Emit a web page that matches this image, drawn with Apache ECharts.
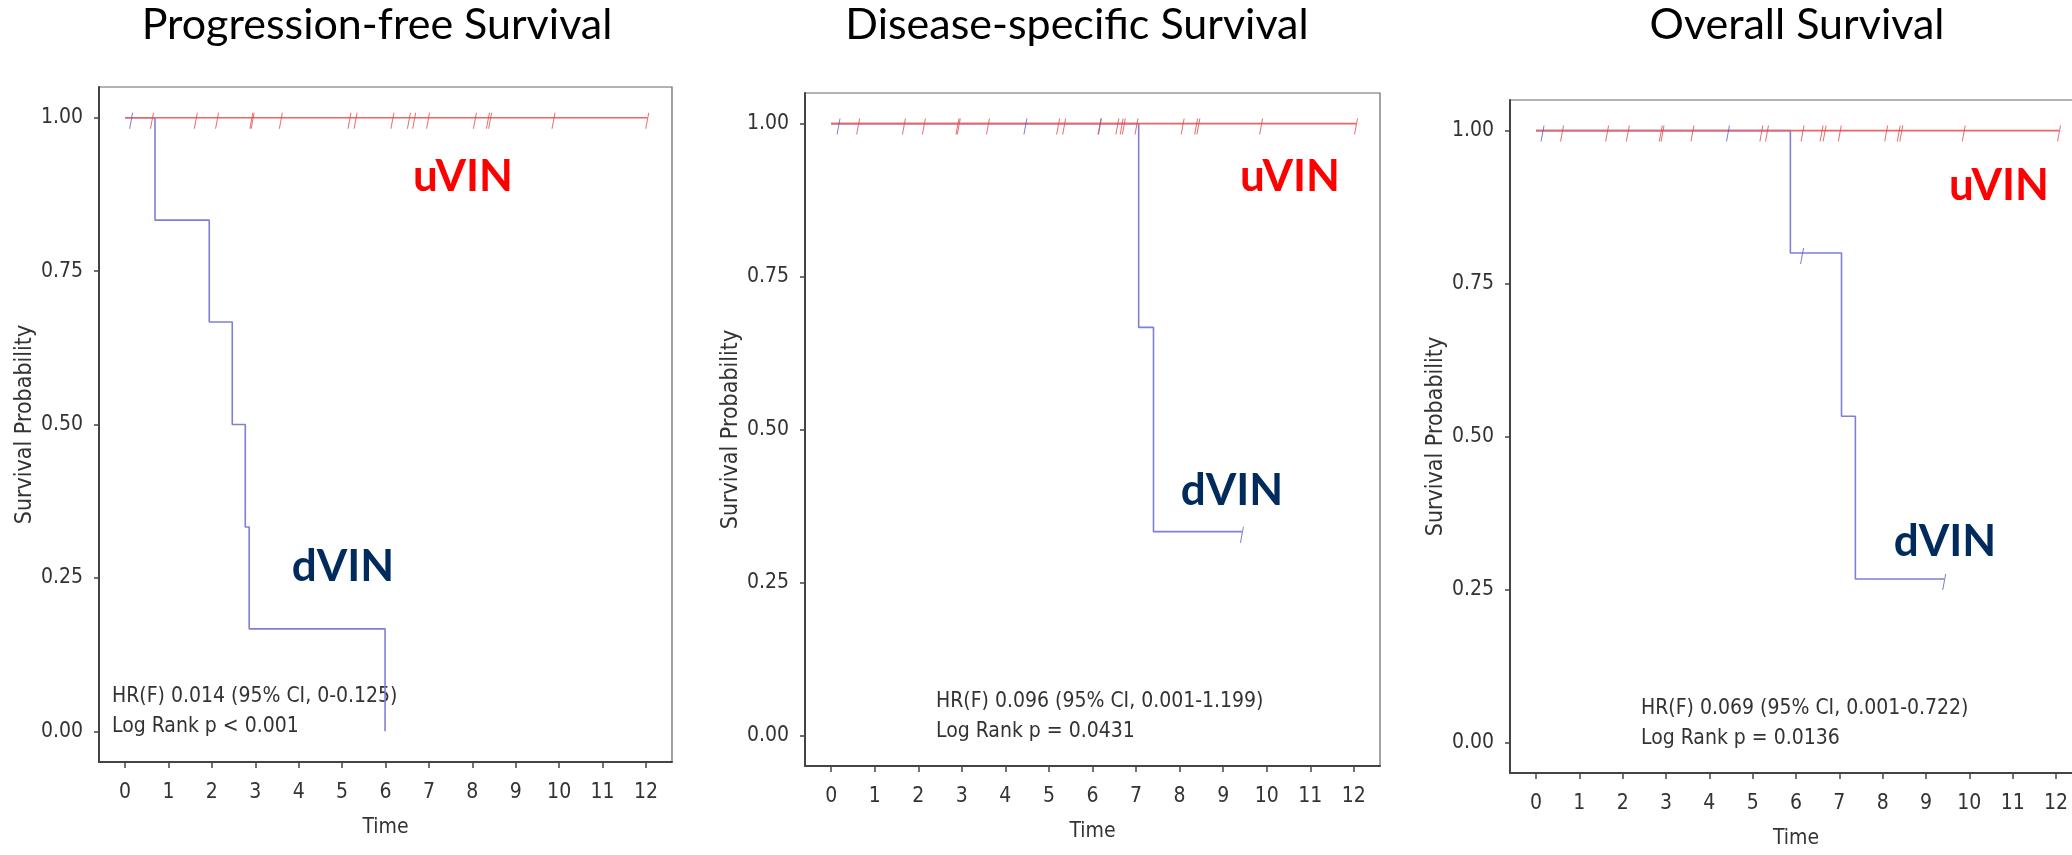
<!DOCTYPE html>
<html>
<head>
<meta charset="utf-8">
<script src="https://cdn.jsdelivr.net/npm/echarts@6/dist/echarts.min.js"></script>
<style>
  html, body { margin: 0; padding: 0; background: #fff; }
  #chart { width: 2072px; height: 855px; }
</style>
</head>
<body>
<div id="chart"></div>
<script>
// 三个 Kaplan-Meier 曲线：PFS / DSS / OS
var panelTitles = ['Progression-free Survival', 'Disease-specific Survival', 'Overall Survival'];
var timeTicks = [0, 1, 2, 3, 4, 5, 6, 7, 8, 9, 10, 11, 12];
var probTicks = [0, 0.25, 0.5, 0.75, 1];

// uVIN: no events, only censored
var uvinEnd = [12.03, 12.05, 12.07];
var uvinCensorPFS = [0.62, 1.63, 2.12, 2.91, 2.94, 3.59, 5.17, 5.31, 6.16, 6.54, 6.66, 6.98, 8.06, 8.36, 8.41, 9.87, 12.03];
var uvinCensorDSS = [0.62, 1.67, 2.13, 2.90, 2.93, 3.60, 5.21, 5.35, 6.16, 6.57, 6.67, 6.72, 7.01, 8.07, 8.38, 8.43, 9.87, 12.05];
var uvinCensorOS  = [0.60, 1.64, 2.12, 2.88, 2.92, 3.61, 5.20, 5.33, 6.15, 6.59, 6.66, 7.01, 8.08, 8.37, 8.43, 9.87, 12.07];

// dVIN step curves
var dvinTimePFS = [0, 0.69, 1.94, 2.47, 2.77, 2.86, 5.99];
var dvinSurvPFS = [1, 0.833, 0.667, 0.5, 0.333, 0.167, 0];
var dvinCensorTimePFS = [0.14];
var dvinCensorSurvPFS = [1];

var dvinTimeDSS = [0, 7.06, 7.40, 9.43];
var dvinSurvDSS = [1, 0.667, 0.333, 0.333];
var dvinCensorTimeDSS = [0.17, 4.46, 6.17, 9.43];
var dvinCensorSurvDSS = [1, 1, 1, 0.333];

var dvinTimeOS = [0, 5.87, 7.05, 7.37, 9.42];
var dvinSurvOS = [1, 0.8, 0.533, 0.267, 0.267];
var dvinCensorTimeOS = [0.15, 4.43, 6.14, 9.42];
var dvinCensorSurvOS = [1, 1, 0.8, 0.267];

var statLines = [
  ['HR(F) 0.014 (95% CI, 0-0.125)', 'Log Rank p < 0.001'],
  ['HR(F) 0.096 (95% CI, 0.001-1.199)', 'Log Rank p = 0.0431'],
  ['HR(F) 0.069 (95% CI, 0.001-0.722)', 'Log Rank p = 0.0136']
];

var uvinCensor = [uvinCensorPFS, uvinCensorDSS, uvinCensorOS];
var dvinTime = [dvinTimePFS, dvinTimeDSS, dvinTimeOS];
var dvinSurv = [dvinSurvPFS, dvinSurvDSS, dvinSurvOS];
var dvinCT = [dvinCensorTimePFS, dvinCensorTimeDSS, dvinCensorTimeOS];
var dvinCS = [dvinCensorSurvPFS, dvinCensorSurvDSS, dvinCensorSurvOS];

var myChart = echarts.init(document.getElementById('chart'));

var grids = [
  { left: 99, top: 87, width: 573, height: 675 },
  { left: 805, top: 93, width: 575, height: 673 },
  { left: 1510, top: 100, width: 572, height: 673 }
];
var narrow = "'Liberation Sans Narrow', 'DejaVu Sans Condensed', 'Liberation Sans', sans-serif";
var slash = 'path://M3,0 L4,0 L1,16 L0,16 Z';

var xAxes = [], yAxes = [], series = [];
for (var i = 0; i < 3; i++) {
  grids[i].show = true;
  grids[i].borderColor = '#666';
  grids[i].borderWidth = 1.2;
  grids[i].outerBoundsMode = 'none';
  grids[i].containLabel = false;
  xAxes.push({
    type: 'value', gridIndex: i, min: -0.6, max: 12.6,
    name: 'Time', nameLocation: 'middle', nameGap: 55,
    nameTextStyle: { fontFamily: narrow, fontSize: 21, color: '#333' },
    axisLine: { show: true, onZero: false, lineStyle: { color: '#444', width: 2 } },
    axisTick: { show: true, length: 6, customValues: timeTicks, lineStyle: { color: '#444', width: 1.5 } },
    axisLabel: { customValues: timeTicks, margin: 20, fontFamily: narrow, fontSize: 21, color: '#333' },
    splitLine: { show: false }
  });
  yAxes.push({
    type: 'value', gridIndex: i, min: -0.05, max: 1.05,
    name: 'Survival Probability', nameLocation: 'middle', nameGap: 62,
    nameTextStyle: { fontFamily: narrow, fontSize: 23, color: '#333' },
    axisLine: { show: true, onZero: false, lineStyle: { color: '#444', width: 2 } },
    axisTick: { show: true, length: 5, customValues: probTicks, lineStyle: { color: '#444', width: 1.5 } },
    axisLabel: {
      customValues: probTicks, margin: 16, fontFamily: narrow, fontSize: 21, color: '#333',
      formatter: function (v) { return v.toFixed(2); }
    },
    splitLine: { show: false }
  });

  // dVIN curve
  series.push({
    type: 'line', xAxisIndex: i, yAxisIndex: i, step: 'end', showSymbol: false,
    lineStyle: { color: '#7f7fd6', width: 1.6 },
    data: dvinTime[i].map(function (t, k) { return [t, dvinSurv[i][k]]; }),
    z: 2, silent: true
  });
  // uVIN flat line
  series.push({
    type: 'line', xAxisIndex: i, yAxisIndex: i, showSymbol: false,
    lineStyle: { color: '#ec6464', width: 1.6 },
    data: [[0, 1], [uvinEnd[i], 1]],
    z: 3, silent: true
  });
  // censor marks
  series.push({
    type: 'scatter', xAxisIndex: i, yAxisIndex: i, symbol: slash,
    symbolSize: [4, 16], symbolOffset: [0, 3], symbolKeepAspect: false,
    itemStyle: { color: '#5a5ac8' },
    data: dvinCT[i].map(function (t, k) { return [t, dvinCS[i][k]]; }),
    z: 4, silent: true
  });
  series.push({
    type: 'scatter', xAxisIndex: i, yAxisIndex: i, symbol: slash,
    symbolSize: [4, 16], symbolOffset: [0, 3], symbolKeepAspect: false,
    itemStyle: { color: '#e04848' },
    data: uvinCensor[i].map(function (t) { return [t, 1]; }),
    z: 5, silent: true
  });
}

var titleX = [377, 1077, 1797];
var uvinPos = [[463, 177], [1290, 177], [1999, 186]];
var dvinPos = [[343, 567], [1232, 491], [1945, 542]];
var statPos = [[112, 697], [936, 702], [1641, 709]];
var graphics = [];
for (var j = 0; j < 3; j++) {
  graphics.push({ type: 'text', x: titleX[j], y: 25, style: {
    text: panelTitles[j], fill: '#000', font: "43px Lato, 'Open Sans', sans-serif",
    textAlign: 'center', textVerticalAlign: 'middle' } });
  graphics.push({ type: 'text', x: uvinPos[j][0], y: uvinPos[j][1], style: {
    text: 'uVIN', fill: '#ff0000', font: "bold 44px Lato, 'Open Sans', sans-serif",
    textAlign: 'center', textVerticalAlign: 'middle' } });
  graphics.push({ type: 'text', x: dvinPos[j][0], y: dvinPos[j][1], style: {
    text: 'dVIN', fill: '#002b5c', font: "bold 44px Lato, 'Open Sans', sans-serif",
    textAlign: 'center', textVerticalAlign: 'middle' } });
  graphics.push({ type: 'text', x: statPos[j][0], y: statPos[j][1], style: {
    text: statLines[j][0], fill: '#333', font: '21px ' + narrow,
    textAlign: 'left', textVerticalAlign: 'middle' } });
  graphics.push({ type: 'text', x: statPos[j][0], y: statPos[j][1] + 30, style: {
    text: statLines[j][1], fill: '#333', font: '21px ' + narrow,
    textAlign: 'left', textVerticalAlign: 'middle' } });
}

var option = {
  animation: false,
  backgroundColor: '#fff',
  grid: grids,
  xAxis: xAxes,
  yAxis: yAxes,
  series: series,
  graphic: graphics
};
myChart.setOption(option);
</script>
</body>
</html>
